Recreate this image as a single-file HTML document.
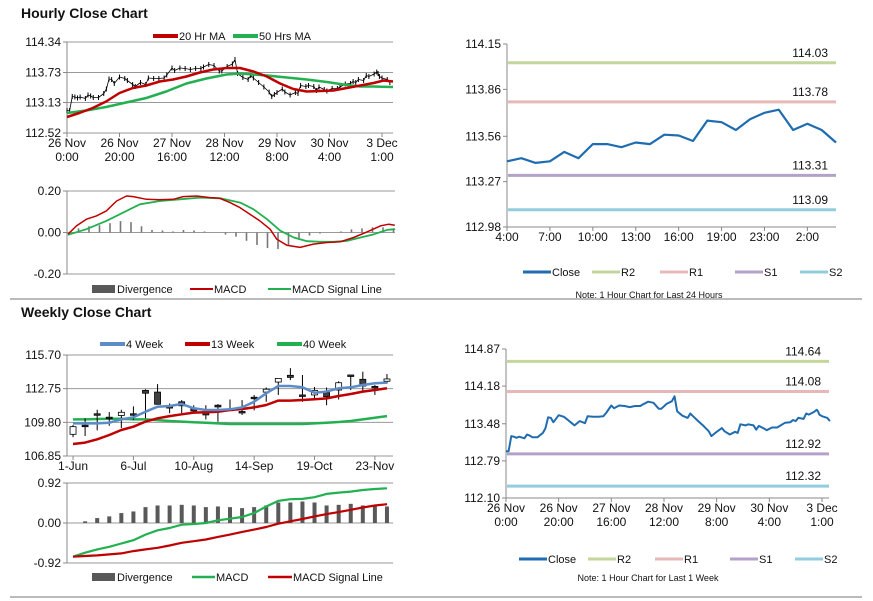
<!DOCTYPE html>
<html><head><meta charset="utf-8"><style>
body{margin:0;background:#fff;}
svg{display:block;font-family:"Liberation Sans",Arial,sans-serif;}
text{fill:#111;}
</style></head><body>
<svg id="s" width="873" height="601" viewBox="0 0 873 601">
<rect x="0" y="0" width="873" height="601" fill="#fff"/>
<text x="21" y="18" font-size="14" font-weight="bold">Hourly Close Chart</text>
<text x="21" y="317" font-size="14" font-weight="bold">Weekly Close Chart</text>
<line x1="10" y1="299" x2="862" y2="299" stroke="#777" stroke-width="1"/>
<line x1="10" y1="597" x2="862" y2="597" stroke="#777" stroke-width="1"/>
</svg>
<script>
// ---- data ----
const hrHours=[0,1,2,3,4,5,7,8,9,10,12,14,15,16,17,18,20,22,23,25,26,28,30,31,33,35,37,38,40,41,43,45,47,49,51,52,54,56,58,59,61,63,64,65,67,69,70,71,73,75,77,78,79,80,82,83,85,87,88,89,91,92,94,95,96,98,99,101,103,104,106,108,109,110,111,113,114,115,117,118,118.5,119,120,122,123];
const hrClose=[112.97,112.97,113.25,113.24,113.22,113.24,113.21,113.28,113.26,113.23,113.23,113.31,113.40,113.60,113.59,113.51,113.64,113.61,113.57,113.49,113.45,113.53,113.49,113.62,113.61,113.61,113.62,113.68,113.82,113.77,113.82,113.81,113.79,113.81,113.81,113.84,113.89,113.87,113.76,113.76,113.85,113.90,113.99,113.71,113.63,113.59,113.67,113.62,113.53,113.44,113.34,113.25,113.29,113.33,113.40,113.34,113.28,113.33,113.31,113.47,113.45,113.47,113.45,113.37,113.44,113.39,113.36,113.41,113.41,113.44,113.50,113.51,113.55,113.53,113.59,113.57,113.67,113.65,113.70,113.74,113.71,113.65,113.62,113.59,113.53];
const ma20Hours=[0,4.7,9.8,14.9,20,25.1,30.2,35.3,40.4,45.5,50.6,55.7,60.8,65.9,71,76.1,81.2,86.2,91.3,96.4,101.5,106.6,111.7,116.8,120.6,124.2];
const ma20=[112.84,112.92,113.02,113.15,113.32,113.42,113.47,113.55,113.59,113.65,113.73,113.79,113.82,113.82,113.75,113.65,113.51,113.40,113.35,113.36,113.37,113.42,113.47,113.52,113.57,113.55];
const ma50Hours=[0,7.3,14.9,22.5,30.2,37.8,45.5,53.1,60.8,65.9,71,76.1,83.7,91.3,99,106.6,111.7,116.8,124.2];
const ma50=[112.92,112.97,113.04,113.13,113.22,113.35,113.51,113.61,113.69,113.71,113.69,113.67,113.63,113.59,113.54,113.48,113.45,113.45,113.44];
const hMacdHours=[0,3.2,7,10.8,14.6,18.5,22.3,24.8,29.9,35,40.1,43.9,49,54.1,57.8,61.7,65.5,69.3,73.1,77,79.5,83.3,88.4,93.5,98.6,103.7,108.8,113.9,119,122.2,124.5];
const hMacd=[-0.008,0.032,0.064,0.08,0.104,0.152,0.176,0.173,0.16,0.158,0.16,0.173,0.176,0.168,0.165,0.144,0.12,0.088,0.056,0.016,-0.032,-0.061,-0.072,-0.056,-0.048,-0.045,-0.024,0.003,0.032,0.04,0.035];
const hSigHours=[0,7,14.6,22.3,27.4,35,42.7,50.3,58,65.6,70.7,75.8,80.9,86,91.1,96.2,101.3,106.4,111.5,116.6,121.7,124.6];
const hSig=[-0.011,0.016,0.056,0.104,0.136,0.152,0.16,0.168,0.165,0.144,0.112,0.064,0.008,-0.024,-0.042,-0.045,-0.045,-0.04,-0.024,-0.008,0.013,0.016];
const hDivHours=[0,4,8,12,16,20,24,28,32,36,40,44,48,52,56,60,64,68,72,76,80,84,88,92,96,100,104,108,112,116,120,124];
const hDiv=[0,0.02,0.03,0.035,0.045,0.055,0.05,0.03,0.012,0.01,0.005,0.012,0.01,0.005,0,-0.01,-0.02,-0.04,-0.06,-0.075,-0.08,-0.06,-0.035,-0.015,-0.005,0,0.005,0.015,0.02,0.025,0.025,0.02];
const hrTickLabels=[["26 Nov","0:00"],["26 Nov","20:00"],["27 Nov","16:00"],["28 Nov","12:00"],["29 Nov","8:00"],["30 Nov","4:00"],["3 Dec","1:00"]];
const hrTickHours=[0,20,40,60,80,100,120];
const dayClose=[113.40,113.42,113.39,113.40,113.46,113.42,113.51,113.51,113.49,113.52,113.51,113.57,113.565,113.53,113.66,113.65,113.60,113.67,113.71,113.73,113.60,113.64,113.60,113.52];
const dayTickLabels=["4:00","7:00","10:00","13:00","16:00","19:00","23:00","2:00"];
const dayLevels=[114.03,113.78,113.31,113.09];
const weekLevels=[114.64,114.08,112.92,112.32];
const wOpen =[108.75,109.55,110.55,110.25,110.40,110.55,112.60,112.45,111.20,111.60,111.03,110.73,111.30,110.95,110.75,112.00,112.45,113.33,113.92,112.20,112.20,112.40,112.63,113.95,113.57,112.95,113.40];
const wHigh =[109.57,110.15,110.90,110.70,110.90,111.20,112.70,113.15,111.45,111.75,111.30,111.30,111.40,111.80,111.75,112.20,112.85,113.65,114.55,113.95,112.90,112.85,113.40,113.95,114.24,113.07,114.03];
const wLow  =[108.50,108.60,109.10,109.50,109.30,110.00,110.15,111.38,110.60,110.60,110.60,110.05,109.85,110.85,110.45,110.85,111.60,112.20,113.50,111.60,111.85,111.30,111.80,112.63,112.50,112.20,113.20];
const wClose=[109.42,109.42,110.50,110.20,110.68,110.50,112.35,111.38,111.05,111.25,110.80,110.45,111.15,110.90,110.70,111.90,112.70,113.65,113.74,112.10,112.60,112.05,113.27,113.85,112.98,112.87,113.60];
const w4=[109.71,109.71,109.71,109.77,110.06,110.24,110.73,111.17,111.23,111.41,111.03,110.88,110.88,110.94,111.11,111.61,112.34,112.98,112.98,112.87,112.40,112.49,112.78,112.87,113.07,113.22,113.28];
const w13=[107.90,108.02,108.31,108.69,109.13,109.42,109.86,110.15,110.35,110.50,110.65,110.68,110.73,110.88,110.97,111.11,111.32,111.70,111.70,111.76,111.82,111.90,112.11,112.28,112.49,112.63,112.78];
const w40=[110.06,110.06,110.09,110.12,110.12,110.06,110.06,110.00,109.92,109.86,109.80,109.77,109.71,109.65,109.65,109.65,109.65,109.65,109.65,109.65,109.71,109.77,109.83,109.92,110.06,110.21,110.35];
const wDiv=[0,0.038,0.114,0.152,0.228,0.266,0.365,0.403,0.403,0.418,0.403,0.365,0.38,0.365,0.342,0.365,0.403,0.471,0.471,0.494,0.471,0.403,0.418,0.441,0.403,0.38,0.38];
const wMacd=[-0.775,-0.684,-0.608,-0.547,-0.471,-0.395,-0.266,-0.167,-0.114,-0.038,-0.023,0,0.061,0.099,0.137,0.228,0.38,0.509,0.547,0.555,0.593,0.669,0.699,0.722,0.76,0.783,0.798];
const wSig=[-0.775,-0.76,-0.745,-0.722,-0.699,-0.646,-0.608,-0.57,-0.517,-0.456,-0.418,-0.38,-0.319,-0.266,-0.205,-0.152,-0.091,-0.015,0.038,0.091,0.152,0.205,0.251,0.304,0.357,0.403,0.433];
const wTickIdx=[0,5,10,15,20,25];
const wTickLabels=["1-Jun","6-Jul","10-Aug","14-Sep","19-Oct","23-Nov"];
const levelColors=["#c3d69b","#e6b9b8","#b3a2c7","#93cddd"];

// ---- helpers ----
const S=document.getElementById('s');const NS='http://www.w3.org/2000/svg';
function mk(tag,a){const e=document.createElementNS(NS,tag);for(const k in a)e.setAttribute(k,a[k]);S.appendChild(e);return e;}
function lin(d0,d1,r0,r1){return v=>r0+(v-d0)/(d1-d0)*(r1-r0);}
function txt(x,y,s,anchor,size){const t=mk('text',{x:x,y:y,'font-size':size||11,'text-anchor':anchor||'middle'});t.textContent=s;return t;}
function pts(xs,ys,fx,fy){return xs.map((v,i)=>fx(v).toFixed(1)+','+fy(ys[i]).toFixed(1)).join(' ');}
function poly(xs,ys,fx,fy,col,w){return mk('polyline',{points:pts(xs,ys,fx,fy),fill:'none',stroke:col,'stroke-width':w,'stroke-linejoin':'round'});}
function yAxis(x0,x1,fy,ticks,labels,grid){
  ticks.forEach((v,i)=>{
    if(grid){const g=mk('line',{x1:x0,x2:x1,y1:fy(v),y2:fy(v),stroke:'#999','stroke-width':1});
    
    }
    const tk=mk('line',{x1:x0-4,x2:x0,y1:fy(v),y2:fy(v),stroke:'#888'});
    
    
    const t=txt(x0-6,fy(v)+4,labels[i],'end',12);
    
    
  });
  const a=mk('line',{x1:x0,x2:x0,y1:fy(ticks[ticks.length-1]),y2:fy(ticks[0]),stroke:'#888'});
  
  
}
function xAxisLine(x0,x1,y){const a=mk('line',{x1:x0,x2:x1,y1:y,y2:y,stroke:'#888'});
  
  }
function xTicks(vals,fx,y,labels,size){
  vals.forEach((v,i)=>{
    const tk=mk('line',{x1:fx(v),x2:fx(v),y1:y,y2:y+4,stroke:'#888'});
    
    
    const L=Array.isArray(labels[i])?labels[i]:[labels[i]];
    L.forEach((s,j)=>{const t=txt(fx(v),y+14+j*14,s,'middle',size||12);
      
      });
  });
}
function legLine(x1,x2,y,col,w,label,name){
  const l=mk('line',{x1:x1,x2:x2,y1:y,y2:y,stroke:col,'stroke-width':w});
  
  
  const t=txt(x2+1,y+4,label,'start',11);
  
  
}
function legBox(x1,x2,y,label,name){
  const r=mk('rect',{x:x1,y:y-4,width:x2-x1,height:8,fill:'#595959'});
  
  
  const t=txt(x2+2,y+4,label,'start',11);
  
  
}

// ---- Panel 1: hourly price ----
{const fx=lin(0,120,67,382),fy=lin(112.52,114.34,133,42);
yAxis(67,393,fy,[112.52,113.13,113.73,114.34],["112.52","113.13","113.73","114.34"],true);
xTicks(hrTickHours,fx,133,hrTickLabels,12);
hrClose.forEach((v,i)=>{const b=mk('line',{x1:fx(hrHours[i]),x2:fx(hrHours[i]),y1:fy(v+0.05),y2:fy(v-0.05),stroke:'#000','stroke-width':1});
  
  });
const c=poly(hrHours,hrClose,fx,fy,'#000',0.8);


const g=poly(ma50Hours,ma50,fx,fy,'#22b050',2.5);


const r=poly(ma20Hours,ma20,fx,fy,'#c00000',2.5);


legLine(153,178,36,'#c00000',4,'20 Hr MA','legend-ma20');
legLine(233,258,36,'#22b050',4,'50 Hrs MA','legend-ma50');}

// ---- Panel 2: hourly MACD ----
{const fx=lin(0,120,68,383),fy=lin(-0.2,0.2,274,191);
yAxis(67,395,fy,[-0.2,0,0.2],["-0.20","0.00","0.20"],true);
hDiv.forEach((v,i)=>{const b=mk('line',{x1:fx(hDivHours[i]),x2:fx(hDivHours[i]),y1:fy(0),y2:fy(v),stroke:'#777','stroke-width':1.6});
  
  });
const g=poly(hSigHours,hSig,fx,fy,'#22b050',1.8);


const r=poly(hMacdHours,hMacd,fx,fy,'#c00000',1.5);


legBox(92,115,289,'Divergence','legend-divergence');
legLine(190,213,289,'#c00000',2,'MACD','legend-macd');
legLine(268,291,289,'#22b050',2,'MACD Signal Line','legend-signal');}

// ---- level panels ----
function levelPanel(x0,x1,y0,y1,dmin,dmax,ticks,tlabels,levels,prefix){
  const fy=lin(dmin,dmax,y1,y0);
  yAxis(x0,x1,fy,ticks,tlabels,false);
  xAxisLine(x0,x1,y1);
  levels.forEach((v,i)=>{
    const l=mk('line',{x1:x0+1,x2:x1,y1:fy(v),y2:fy(v),stroke:levelColors[i],'stroke-width':3});
    
    
    const t=txt(x1-8,fy(v)-6,v.toFixed(2),'end',12);
    
    
  });
  return fy;
}
function levelLegend(y,xs,prefix){
  const names=['Close','R2','R1','S1','S2'],cols=['#1f6cb0'].concat(levelColors);
  names.forEach((n,i)=>legLine(xs[i],xs[i]+28,y,cols[i],3,n,prefix+'-legend-'+n.toLowerCase()));
}

// ---- Panel 3: last 24h ----
{const fx=lin(0,23,507,836);
const fy=levelPanel(507,836,44,227,112.98,114.15,[112.98,113.27,113.56,113.86,114.15],["112.98","113.27","113.56","113.86","114.15"],dayLevels,'day');
xTicks([0,3,6,9,12,15,18,21],fx,227,dayTickLabels,12);
const idx=dayClose.map((v,i)=>i);
const c=poly(idx,dayClose,fx,fy,'#1f6cb0',2.2);


levelLegend(272,[523,592,660,735,800],'day');
const n=txt(649,298,'Note: 1 Hour Chart for Last 24 Hours','middle',9);

}

// ---- Panel 6: last week ----
{const fx=lin(0,120,506,822);
const fy=levelPanel(506,829,349,498,112.10,114.87,[112.10,112.79,113.48,114.18,114.87],["112.10","112.79","113.48","114.18","114.87"],weekLevels,'week');
xTicks(hrTickHours,fx,498,hrTickLabels,12);
const c=poly(hrHours,hrClose,fx,fy,'#1f6cb0',2);


levelLegend(559,[519,588,655,730,795],'week');
const n=txt(648,581,'Note: 1 Hour Chart for Last 1 Week','middle',9);

}

// ---- Panel 4: weekly price ----
{const fx=i=>67+(i+0.5)*326/27,fy=lin(106.85,115.70,456,355);
yAxis(67,393,fy,[106.85,109.80,112.75,115.70],["106.85","109.80","112.75","115.70"],true);
xTicks(wTickIdx,fx,456,wTickLabels,12);
const idx=wClose.map((v,i)=>i);
const g=poly(idx,w40,fx,fy,'#22b050',2.5);


wOpen.forEach((o,i)=>{
  const x=fx(i);
  const w=mk('line',{x1:x,x2:x,y1:fy(wHigh[i]),y2:fy(wLow[i]),stroke:'#000','stroke-width':1});
  
  
  const up=wClose[i]>=o,top=fy(Math.max(o,wClose[i])),bot=fy(Math.min(o,wClose[i]));
  const b=mk('rect',{x:x-3,y:top,width:6,height:Math.max(bot-top,1.5),fill:up?'#fff':'#404040',stroke:'#000','stroke-width':0.8});
  
  
});
const r=poly(idx,w13,fx,fy,'#c00000',2.5);


const bl=poly(idx,w4,fx,fy,'#5b8cc8',2.5);


legLine(100,125,344,'#5b8cc8',4,'4 Week','legend-4week');
legLine(185,210,344,'#c00000',4,'13 Week','legend-13week');
legLine(277,302,344,'#22b050',4,'40 Week','legend-40week');}

// ---- Panel 5: weekly MACD ----
{const fx=i=>67+(i+0.5)*326/27,fy=lin(-0.92,0.92,563,483);
yAxis(67,393,fy,[-0.92,0,0.92],["-0.92","0.00","0.92"],true);
wDiv.forEach((v,i)=>{const b=mk('rect',{x:fx(i)-2,y:Math.min(fy(v),fy(0)),width:4,height:Math.abs(fy(v)-fy(0)),fill:'#595959'});
  
  });
const idx=wMacd.map((v,i)=>i);
const g=poly(idx,wMacd,fx,fy,'#22b050',2.2);


const r=poly(idx,wSig,fx,fy,'#c00000',2.2);


legBox(92,115,577,'Divergence','weekly-legend-divergence');
legLine(192,215,577,'#22b050',2.5,'MACD','weekly-legend-macd');
legLine(268,292,577,'#c00000',2.5,'MACD Signal Line','weekly-legend-signal');}
</script>
</body></html>
